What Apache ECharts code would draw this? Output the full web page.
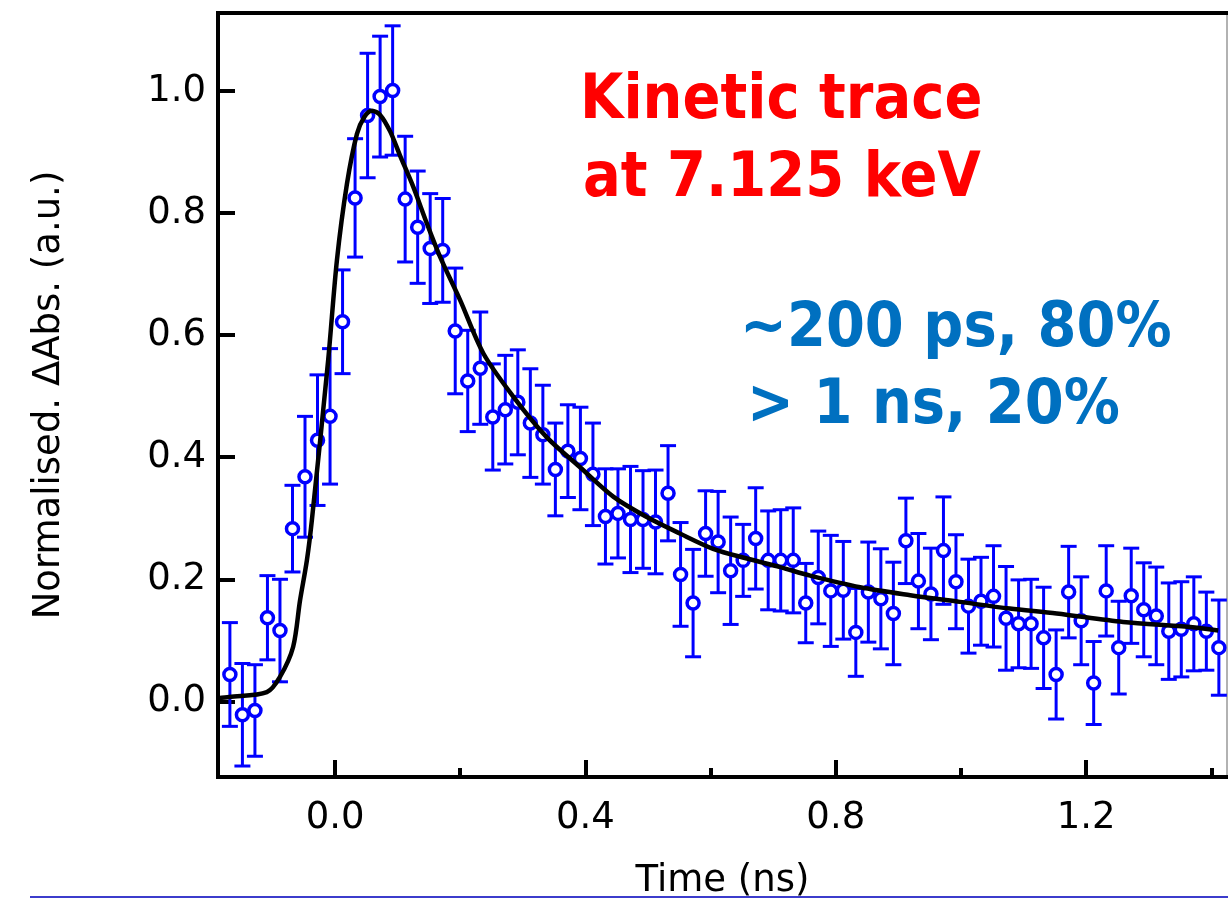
<!DOCTYPE html>
<html lang="en">
<head>
    <meta charset="UTF-8">
    <title>Kinetic trace at 7.125 keV</title>
    <script src="https://cdn.jsdelivr.net/npm/echarts@6.0.0/dist/echarts.min.js"></script>
    <style>
        body { margin: 0; background: #fff; }
        #main { width: 1228px; height: 899px; }
    </style>
</head>
<body>
    <div id="main"></div>
    <script>
        // measured points (time in ns, normalised ΔAbs, error bar half-height)
        const times = [
            -0.168, -0.148, -0.128, -0.108, -0.088, -0.068, -0.048, -0.028, -0.008, 0.012,
            0.032, 0.052, 0.072, 0.092, 0.112, 0.132, 0.152, 0.172, 0.192, 0.212,
            0.232, 0.252, 0.272, 0.292, 0.312, 0.332, 0.352, 0.372, 0.392, 0.412,
            0.432, 0.452, 0.472, 0.492, 0.512, 0.532, 0.552, 0.572, 0.592, 0.612,
            0.632, 0.652, 0.672, 0.692, 0.712, 0.732, 0.752, 0.772, 0.792, 0.812,
            0.832, 0.852, 0.872, 0.892, 0.912, 0.932, 0.952, 0.972, 0.992, 1.012,
            1.032, 1.052, 1.072, 1.092, 1.112, 1.132, 1.152, 1.172, 1.192, 1.212,
            1.232, 1.252, 1.272, 1.292, 1.312, 1.332, 1.352, 1.372, 1.392, 1.412
        ];
        const values = [
            0.044, -0.022, -0.015, 0.137, 0.116, 0.283, 0.368, 0.428, 0.467, 0.622,
            0.825, 0.960, 0.991, 1.001, 0.823, 0.777, 0.742, 0.739, 0.607, 0.525,
            0.546, 0.466, 0.478, 0.490, 0.456, 0.437, 0.380, 0.410, 0.398, 0.372,
            0.303, 0.308, 0.298, 0.298, 0.294, 0.341, 0.208, 0.161, 0.275, 0.261,
            0.214, 0.231, 0.267, 0.231, 0.231, 0.231, 0.161, 0.203, 0.181, 0.182,
            0.113, 0.179, 0.168, 0.144, 0.263, 0.197, 0.176, 0.247, 0.196, 0.156,
            0.164, 0.172, 0.136, 0.127, 0.127, 0.104, 0.044, 0.179, 0.132, 0.030,
            0.181, 0.088, 0.173, 0.150, 0.140, 0.115, 0.118, 0.127, 0.115, 0.088
        ];
        const errors = [
            0.085, 0.084, 0.075, 0.069, 0.084, 0.071, 0.099, 0.107, 0.111, 0.085,
            0.097, 0.102, 0.099, 0.106, 0.103, 0.092, 0.090, 0.085, 0.103, 0.083,
            0.092, 0.087, 0.089, 0.086, 0.089, 0.081, 0.076, 0.076, 0.084, 0.084,
            0.078, 0.073, 0.087, 0.080, 0.085, 0.078, 0.085, 0.088, 0.070, 0.083,
            0.088, 0.059, 0.083, 0.081, 0.083, 0.086, 0.065, 0.076, 0.091, 0.080,
            0.072, 0.082, 0.082, 0.084, 0.070, 0.078, 0.075, 0.088, 0.077, 0.077,
            0.072, 0.083, 0.085, 0.072, 0.073, 0.083, 0.073, 0.075, 0.072, 0.068,
            0.074, 0.076, 0.078, 0.077, 0.080, 0.079, 0.078, 0.077, 0.064, 0.078
        ];

        // fitted curve
        const fitTimes = [
            -0.187, -0.169, -0.109, -0.088, -0.067, -0.056, -0.045, -0.037, -0.011, 0.003,
            0.019, 0.035, 0.047, 0.059, 0.072, 0.088, 0.104, 0.125, 0.146, 0.168,
            0.200, 0.237, 0.285, 0.338, 0.391, 0.445, 0.498, 0.551, 0.604, 0.658,
            0.711, 0.759, 0.839, 0.919, 0.998, 1.078, 1.153, 1.259, 1.366, 1.411
        ];
        const fitValues = [
            0.005, 0.007, 0.015, 0.040, 0.089, 0.165, 0.231, 0.297, 0.559, 0.723,
            0.848, 0.930, 0.958, 0.968, 0.961, 0.934, 0.894, 0.843, 0.785, 0.728,
            0.657, 0.570, 0.499, 0.433, 0.384, 0.335, 0.302, 0.275, 0.250, 0.234,
            0.220, 0.206, 0.187, 0.174, 0.163, 0.152, 0.144, 0.130, 0.122, 0.116
        ];

        // tick labels
        const xMajorTicks = [0, 0.4, 0.8, 1.2];
        const xMinorTicks = [0.2, 0.6, 1.0, 1.4];
        const yTicks = [0, 0.2, 0.4, 0.6, 0.8, 1.0];

        const xMin = -0.187, xMax = 1.425;
        const yMin = -0.124, yMax = 1.128;

        const FONT = '"DejaVu Sans", sans-serif';
        const BLUE = '#0000ff';

        const points = times.map((t, i) => [t, values[i]]);
        const bars = times.map((t, i) => [t, values[i] - errors[i], values[i] + errors[i]]);
        const fit = fitTimes.map((t, i) => [t, fitValues[i]]);

        var myChart = echarts.init(document.getElementById('main'));

        const fmt = v => v.toFixed(1);

        // annotation text, stretched a bit to match the tall handwritten-style font
        function note(text, x, y, color) {
            return {
                type: 'text', x: x, y: y, scaleY: 1.1,
                style: { text: text, font: 'bold 56px ' + FONT, fill: color, textVerticalAlign: 'middle' }
            };
        }

        option = {
            animation: false,
            backgroundColor: '#fff',
            grid: { left: 218, right: 1, top: 13, bottom: 122, outerBoundsMode: 'none' },
            xAxis: [
                {
                    type: 'value', min: xMin, max: xMax, position: 'bottom',
                    name: 'Time (ns)', nameLocation: 'middle', nameGap: 86,
                    nameTextStyle: { fontFamily: FONT, fontSize: 37, color: '#000' },
                    axisLine: { onZero: false, lineStyle: { color: '#000', width: 4, cap: 'square' } },
                    axisTick: { inside: true, length: 17, lineStyle: { color: '#000', width: 4 }, customValues: xMajorTicks },
                    axisLabel: { customValues: xMajorTicks, formatter: fmt, fontFamily: FONT, fontSize: 37, color: '#000', margin: 23 },
                    splitLine: { show: false }
                },
                {
                    // short ticks in between
                    type: 'value', min: xMin, max: xMax, position: 'bottom',
                    axisLine: { show: false, onZero: false },
                    axisTick: { inside: true, length: 9, lineStyle: { color: '#000', width: 4 }, customValues: xMinorTicks },
                    axisLabel: { show: false },
                    splitLine: { show: false }
                },
                {
                    type: 'value', min: xMin, max: xMax, position: 'top',
                    axisLine: { onZero: false, lineStyle: { color: '#000', width: 4, cap: 'square' } },
                    axisTick: { show: false }, axisLabel: { show: false }, splitLine: { show: false }
                }
            ],
            yAxis: [
                {
                    type: 'value', min: yMin, max: yMax, position: 'left',
                    name: 'Normalised. ΔAbs. (a.u.)', nameLocation: 'middle', nameGap: 150,
                    nameTextStyle: { fontFamily: FONT, fontSize: 37, color: '#000' },
                    axisLine: { onZero: false, lineStyle: { color: '#000', width: 4, cap: 'square' } },
                    axisTick: { inside: true, length: 17, lineStyle: { color: '#000', width: 4 }, customValues: yTicks },
                    axisLabel: { customValues: yTicks, formatter: fmt, fontFamily: FONT, fontSize: 37, color: '#000', margin: 12 },
                    splitLine: { show: false }
                },
                {
                    type: 'value', min: yMin, max: yMax, position: 'right',
                    axisLine: { onZero: false, lineStyle: { color: '#999', width: 1.5 } },
                    axisTick: { show: false }, axisLabel: { show: false }, splitLine: { show: false }
                }
            ],
            series: [
                // error bars
                {
                    type: 'custom',
                    data: bars,
                    z: 2,
                    renderItem: function (params, api) {
                        var lo = api.coord([api.value(0), api.value(1)]);
                        var hi = api.coord([api.value(0), api.value(2)]);
                        var hw = 8;
                        var st = { stroke: BLUE, lineWidth: 3 };
                        return {
                            type: 'group',
                            children: [
                                { type: 'line', shape: { x1: lo[0], y1: lo[1], x2: hi[0], y2: hi[1] }, style: st },
                                { type: 'line', shape: { x1: hi[0] - hw, y1: hi[1], x2: hi[0] + hw, y2: hi[1] }, style: st },
                                { type: 'line', shape: { x1: lo[0] - hw, y1: lo[1], x2: lo[0] + hw, y2: lo[1] }, style: st }
                            ]
                        };
                    }
                },
                // data points
                {
                    type: 'scatter',
                    data: points,
                    z: 3,
                    symbol: 'circle',
                    symbolSize: 12,
                    itemStyle: { color: '#fff', borderColor: BLUE, borderWidth: 3.5, opacity: 1 }
                },
                // fit
                {
                    type: 'line',
                    data: fit,
                    z: 4,
                    showSymbol: false,
                    smooth: 0.3,
                    lineStyle: { color: '#000', width: 4.5 }
                }
            ],
            graphic: [
                note('Kinetic trace', 580, 102, '#ff0000'),
                note('at 7.125 keV', 583, 180, '#ff0000'),
                note('~200 ps, 80%', 740, 330, '#0070c0'),
                note('> 1 ns, 20%', 747, 407, '#0070c0'),
                { type: 'line', shape: { x1: 30, y1: 897, x2: 1228, y2: 897 }, style: { stroke: '#3c3ccc', lineWidth: 2 } }
            ]
        };

        myChart.setOption(option);
    </script>
</body>
</html>
